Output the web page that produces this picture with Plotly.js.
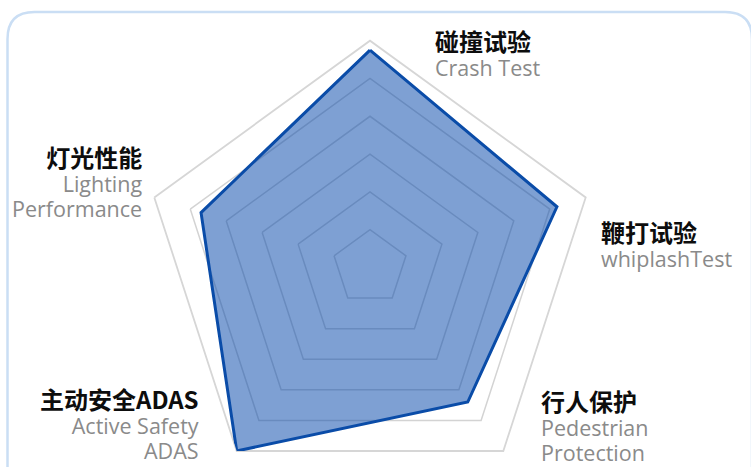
<!DOCTYPE html>
<html>
<head>
<meta charset="utf-8">
<script src="https://cdn.plot.ly/plotly-3.0.1.min.js"></script>
<style>
html,body{margin:0;padding:0;background:#fff;overflow:hidden;width:751px;height:467px;}
#chart{width:751px;height:540px;}
</style>
</head>
<body>
<div id="chart"></div>
<script>
// ---- data ----
const categoriesCN = ["碰撞试验", "鞭打试验", "行人保护", "主动安全ADAS", "灯光性能"];
const categoriesEN = ["Crash Test", "whiplashTest", "Pedestrian<br>Protection", "Active Safety<br>ADAS", "Lighting<br>Performance"];
const scores = [5.75, 5.2, 4.4, 6.0, 4.7];
const radialMax = 6;

// ---- layout helpers (pixel -> paper) ----
const W = 751, H = 540;
const px = x => x / W;
const py = y => 1 - y / H;
const cx = 370, cy = 267.5, R = 226.8;

const theta = categoriesCN.concat([categoriesCN[0]]);
const rVals = scores.concat([scores[0]]);

const trace = {
  type: "scatterpolar",
  r: rVals,
  theta: theta,
  mode: "lines",
  fill: "toself",
  fillcolor: "rgba(8,72,170,0.52)",
  line: {color: "#0a4ca8", width: 3},
  hoverinfo: "skip"
};

// label placement: [x, top y, anchor]
const labelPos = [
  [434, 22.5, "left"],
  [600, 213, "left"],
  [540, 382, "left"],
  [200, 380, "right"],
  [143, 138, "right"]
];

const annotations = categoriesCN.map((cn, i) => {
  const p = labelPos[i];
  const cnSpan = `<span style="font-family:'Noto Sans CJK SC';font-size:24px;font-weight:bold;color:#0d0d0d">${cn}</span>`;
  const enLines = categoriesEN[i].split("<br>").map(t => `<span style="font-size:21.5px">${t}</span>`);
  return {
    xref: "paper", yref: "paper", x: px(p[0]), y: py(p[1]),
    xanchor: p[2], yanchor: "top", align: p[2], showarrow: false, borderpad: 0,
    text: [cnSpan].concat(enLines).join("<br>"),
    font: {family: "Open Sans", size: 19.3, color: "#8a8a8a"}
  };
});

// rounded border frame
const L = 7.5, T = 12, Rt = 752, B = 530, rad = 27;
const framePath = `M ${px(L)} ${py(T + rad)} Q ${px(L)} ${py(T)} ${px(L + rad)} ${py(T)} ` +
  `L ${px(Rt - rad)} ${py(T)} Q ${px(Rt)} ${py(T)} ${px(Rt)} ${py(T + rad)} ` +
  `L ${px(Rt)} ${py(B)} L ${px(L)} ${py(B)} Z`;

const layout = {
  width: W, height: H,
  margin: {l: 0, r: 0, t: 0, b: 0},
  paper_bgcolor: "#ffffff",
  showlegend: false,
  polar: {
    domain: {x: [px(cx - R), px(cx + R)], y: [py(cy + R), py(cy - R)]},
    bgcolor: "rgba(0,0,0,0)",
    gridshape: "linear",
    radialaxis: {
      range: [0, radialMax], dtick: 1, showticklabels: false, ticks: "",
      showline: false, gridcolor: "#d3d3d3", gridwidth: 1.5, layer: "below traces"
    },
    angularaxis: {
      type: "category", categoryarray: categoriesCN, rotation: 90, direction: "clockwise",
      showticklabels: false, ticks: "", showgrid: false,
      showline: true, linecolor: "#d6d6d6", linewidth: 1.8, layer: "below traces"
    }
  },
  shapes: [{
    type: "path", xref: "paper", yref: "paper", path: framePath,
    line: {color: "#cadef4", width: 2.5}, fillcolor: "rgba(0,0,0,0)", layer: "below"
  }],
  annotations: annotations
};

Plotly.newPlot("chart", [trace], layout, {displayModeBar: false, staticPlot: true});
</script>
</body>
</html>
